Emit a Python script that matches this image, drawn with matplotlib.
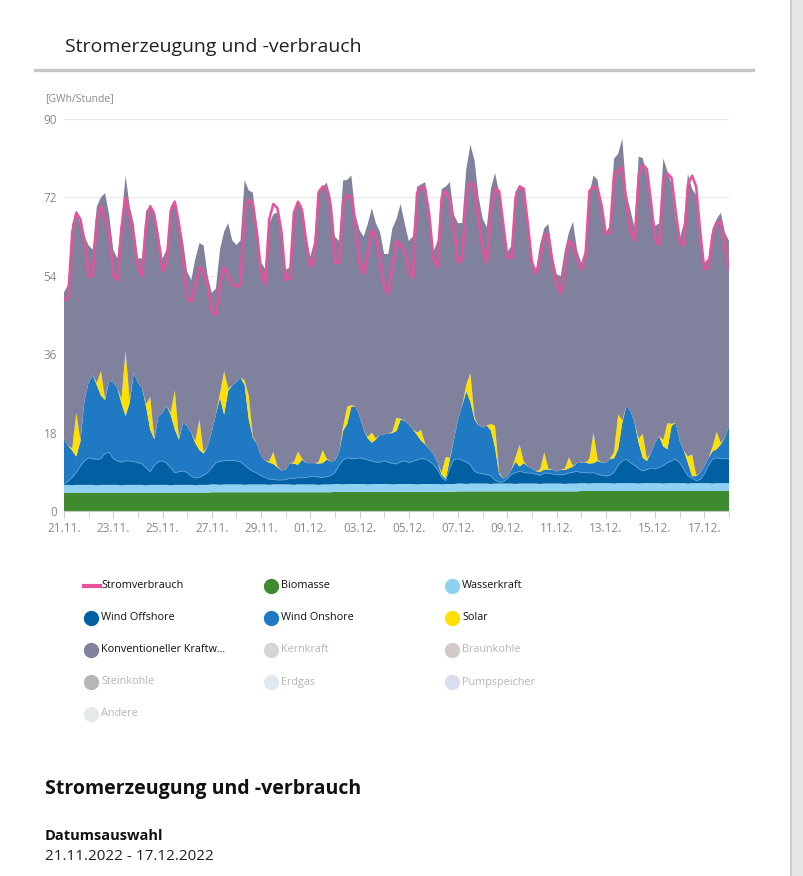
import numpy as np
import pandas as pd
import matplotlib
matplotlib.use('Agg')
import matplotlib.pyplot as plt
import matplotlib.dates as mdates
from matplotlib.lines import Line2D
from matplotlib.patches import Rectangle

plt.rcParams['font.family'] = ['Open Sans', 'DejaVu Sans']

# Werte in GWh/Stunde, alle 4 Stunden (00, 04, 08, 12, 16, 20 Uhr), eine Zeile pro Tag,
# 21.11.2022 00:00 bis 18.12.2022 00:00
stromverbrauch = [
    48.5, 49, 64, 68.5, 67, 62,
    54, 54, 67, 70, 67, 64,
    54, 53, 65, 72, 68, 63,
    56, 54, 66, 70, 68, 62,
    55, 57, 69, 71, 66, 58,
    49, 48, 52, 56, 55, 52,
    46, 45, 52, 56, 54, 52,
    51.5, 52, 69, 71.5, 70.5, 64,
    55, 52, 67, 70.5, 69.5, 64,
    53, 53.5, 68.5, 71, 69, 62,
    56, 58, 73, 74.5, 74, 70,
    57, 57, 71, 72.5, 72, 66,
    57, 54.5, 59, 64.5, 63, 58,
    51.5, 50, 56, 62, 61, 60,
    55, 53.5, 73, 74.5, 74, 68,
    58, 56, 72, 73.5, 71.5, 64.5,
    57, 58, 72.5, 75.5, 74.5, 67,
    60, 57, 69, 74, 73.5, 66,
    58.5, 58, 72, 74.5, 74, 66,
    57, 54.5, 58, 63.5, 63.5, 57,
    52, 50, 56, 62, 61, 58,
    55.5, 58, 73.5, 74.5, 74, 70,
    63.5, 64, 77.5, 78, 79, 71,
    64.5, 62, 77, 79.5, 78.5, 71,
    62.5, 61, 76, 77.5, 76.5, 69,
    62, 61, 75, 77, 74.5, 64,
    55.5, 56, 63.5, 66, 66.5, 61, 55.5,
]

biomasse = [
    4.2, 4.2, 4.2, 4.2, 4.2, 4.2,
    4.2, 4.2, 4.2, 4.2, 4.2, 4.2,
    4.2, 4.2, 4.2, 4.2, 4.2, 4.2,
    4.2, 4.2, 4.2, 4.2, 4.2, 4.2,
    4.2, 4.2, 4.2, 4.2, 4.2, 4.2,
    4.2, 4.2, 4.2, 4.2, 4.2, 4.2,
    4.3, 4.3, 4.3, 4.3, 4.3, 4.3,
    4.3, 4.3, 4.3, 4.3, 4.3, 4.3,
    4.3, 4.3, 4.3, 4.3, 4.3, 4.3,
    4.3, 4.3, 4.3, 4.3, 4.3, 4.3,
    4.3, 4.3, 4.3, 4.3, 4.3, 4.3,
    4.4, 4.4, 4.4, 4.4, 4.4, 4.4,
    4.4, 4.4, 4.4, 4.4, 4.4, 4.4,
    4.4, 4.4, 4.4, 4.4, 4.4, 4.4,
    4.4, 4.4, 4.4, 4.4, 4.4, 4.4,
    4.4, 4.4, 4.4, 4.4, 4.4, 4.4,
    4.5, 4.5, 4.5, 4.5, 4.5, 4.5,
    4.5, 4.5, 4.5, 4.5, 4.5, 4.5,
    4.5, 4.5, 4.5, 4.5, 4.5, 4.5,
    4.5, 4.5, 4.5, 4.5, 4.5, 4.5,
    4.5, 4.5, 4.5, 4.5, 4.5, 4.5,
    4.6, 4.6, 4.6, 4.6, 4.6, 4.6,
    4.6, 4.6, 4.6, 4.6, 4.6, 4.6,
    4.6, 4.6, 4.6, 4.6, 4.6, 4.6,
    4.6, 4.6, 4.6, 4.6, 4.6, 4.6,
    4.6, 4.6, 4.6, 4.6, 4.6, 4.6,
    4.6, 4.6, 4.6, 4.6, 4.6, 4.6, 4.6,
]

wasserkraft = [
    1.8, 1.8, 1.7, 1.8, 1.8, 1.8,
    1.8, 1.8, 1.7, 1.8, 1.8, 1.8,
    1.8, 1.8, 1.7, 1.8, 1.8, 1.8,
    1.8, 1.8, 1.7, 1.8, 1.8, 1.8,
    1.8, 1.8, 1.7, 1.8, 1.8, 1.8,
    1.8, 1.8, 1.7, 1.8, 1.8, 1.8,
    1.8, 1.8, 1.7, 1.8, 1.8, 1.8,
    1.8, 1.8, 1.7, 1.8, 1.8, 1.8,
    1.8, 1.8, 1.7, 1.8, 1.8, 1.8,
    1.8, 1.8, 1.7, 1.8, 1.8, 1.8,
    1.8, 1.8, 1.7, 1.8, 1.8, 1.8,
    1.8, 1.8, 1.7, 1.8, 1.8, 1.8,
    1.8, 1.8, 1.7, 1.8, 1.8, 1.8,
    1.8, 1.8, 1.7, 1.8, 1.8, 1.8,
    1.8, 1.8, 1.7, 1.8, 1.8, 1.8,
    1.8, 1.8, 1.7, 1.8, 1.8, 1.8,
    1.8, 1.8, 1.7, 1.8, 1.8, 1.8,
    1.8, 1.8, 1.7, 1.8, 1.8, 1.8,
    1.8, 1.8, 1.7, 1.8, 1.8, 1.8,
    1.8, 1.8, 1.7, 1.8, 1.8, 1.8,
    1.8, 1.8, 1.7, 1.8, 1.8, 1.8,
    1.8, 1.8, 1.7, 1.8, 1.8, 1.8,
    1.8, 1.8, 1.7, 1.8, 1.8, 1.8,
    1.8, 1.8, 1.7, 1.8, 1.8, 1.8,
    1.8, 1.8, 1.7, 1.8, 1.8, 1.8,
    1.8, 1.8, 1.7, 1.8, 1.8, 1.8,
    1.8, 1.8, 1.7, 1.8, 1.8, 1.8, 1.8,
]

wind_offshore = [
    0.3, 0.8, 1.8, 2.8, 4.3, 5.5,
    6.2, 6, 5.9, 6, 7.2, 7.5,
    6, 5.5, 5.3, 5.5, 5.5, 5.3,
    5.1, 4.8, 4, 3, 4.5, 5.3,
    5.5, 5, 4, 2.8, 3, 3.2,
    2.8, 2, 1.7, 1.7, 2.2, 2.8,
    3.8, 5, 5.4, 5.4, 5.5, 5.5,
    5.4, 5.2, 4.5, 3.6, 3, 2.6,
    2, 1.6, 1.3, 1.2, 1, 1,
    1.1, 1.4, 1.5, 1.5, 1.5, 1.6,
    1.8, 1.8, 1.8, 1.6, 1.8, 2,
    2.6, 4.3, 5.6, 6, 5.8, 5.8,
    6, 5.8, 5.6, 5.3, 5, 5,
    5.3, 5, 4.8, 4.6, 5.1, 5.3,
    4.9, 5.2, 5.6, 5.8, 5.7, 5.3,
    4.5, 3.3, 1.6, 0.8, 3.8, 5.6,
    5.7, 5.3, 5, 4.3, 2.8, 2.4,
    2.2, 2.1, 1.8, 0.8, 0.3, 0.4,
    1.1, 2.1, 2.6, 2.8, 2.6, 2.4,
    2.4, 2.1, 2, 2.4, 2.4, 2.2,
    2, 2, 2.2, 2.4, 2.6, 2.8,
    2.4, 2.4, 2.4, 2.4, 2, 1.8,
    1.6, 1.8, 2.6, 4.1, 5.1, 5.5,
    4.7, 4.1, 3.4, 2.8, 3.1, 3.5,
    3.2, 3.6, 4.1, 4.7, 5.1, 5.5,
    4.7, 3.2, 1.8, 1.1, 0.6, 0.8,
    2.1, 4.1, 5.6, 5.8, 5.6, 5.6, 5.6,
]

wind_onshore = [
    10.3, 8.2, 6.2, 3.7, 5.7, 14,
    17.3, 19.2, 17.1, 14.5, 12.3, 16.5,
    17.5, 16.8, 13.6, 10.3, 13.4, 20.5,
    18.4, 17.5, 14.1, 9.7, 6, 10.5,
    11.1, 13.1, 12.2, 9.9, 7.4, 11.1,
    10.7, 10, 8, 6.3, 5, 6.1,
    8.2, 11, 14.6, 10.6, 16, 17.2,
    18.1, 19.3, 18.5, 11.4, 7.8, 6.7,
    4.6, 3.9, 3.8, 3.5, 2.9, 2.2,
    2.3, 3.5, 3.4, 3, 4.2, 3.3,
    3.1, 3.1, 3.1, 3.3, 3.9, 3.3,
    2.7, 3, 6.7, 7.8, 12, 12,
    9.6, 6.7, 5, 4.2, 5.2, 6.4,
    6.1, 6.6, 7, 7.6, 9.7, 9.2,
    8.8, 7.3, 5.8, 4.1, 3.4, 2.7,
    2.3, 1.6, 0.6, 0.4, 1.9, 4.6,
    9.1, 12.5, 16.3, 14.5, 12, 10.9,
    10.7, 11.2, 10.5, 7.5, 1.9, 0.7,
    0.5, 1.1, 2.5, 1.1, 2.1, 1.5,
    1.1, 0.7, 0.8, 0.8, 0.8, 1,
    0.8, 1.2, 1, 1.1, 1.3, 1.9,
    2.3, 2.3, 2.2, 2.2, 3.1, 2.9,
    3.1, 3.7, 3.2, 3.7, 8.8, 12.2,
    11.9, 9.8, 5.9, 3, 2, 3.5,
    6.1, 7.2, 4.4, 3.1, 8, 8.4,
    5, 4.2, 2.9, 0.5, 1, 1.6,
    1.8, 1.7, 1.8, 2, 3.3, 4.8, 7.5,
]

solar = [
    0, 0, 0.5, 10, 0.3, 0,
    0, 0, 0.5, 5.7, 0.3, 0,
    0, 0, 1, 15, 0.5, 0,
    0, 0, 0.5, 7.5, 0.3, 0,
    0, 0, 0.5, 9, 0.3, 0,
    0, 0, 0.5, 7, 0.3, 0,
    0, 0, 1, 10, 0.5, 0,
    0, 0, 1, 5.4, 0.3, 0,
    0, 0, 0.3, 2.8, 0.2, 0,
    0, 0, 0.3, 3, 0.2, 0,
    0, 0, 0.3, 3, 0.2, 0,
    0, 0, 1, 4, 0.3, 0,
    0, 0, 0.3, 2.3, 0.2, 0,
    0, 0, 0.3, 3, 0.2, 0,
    0, 0, 0.5, 2.5, 0.1, 0,
    0, 0, 0.5, 5, 0.3, 0,
    0, 0, 1.5, 6.5, 0.5, 0,
    0, 0, 1.5, 5, 0.3, 0,
    0, 0, 1, 5, 0.3, 0,
    0, 0, 0.5, 4, 0.2, 0,
    0, 0, 0.3, 2.5, 0.1, 0,
    0, 0, 1, 7, 0.3, 0,
    0, 0, 1.5, 8, 0.5, 0,
    0, 0, 1, 5.5, 0.5, 0,
    0, 0, 1.5, 6, 0.5, 0,
    0, 0, 1.5, 5, 0.2, 0,
    0, 0, 1, 4, 0.3, 0, 0,
]

konventionell = [
    33.6, 37, 51.5, 46.5, 49.7, 37.5,
    31.5, 28.8, 40.5, 39.8, 47.2, 38,
    30.5, 29.7, 41.1, 40.2, 44.6, 34.2,
    28.5, 29.7, 44.4, 43.8, 52.2, 42.2,
    35.4, 35.9, 47.3, 43.8, 50.3, 41.7,
    35.5, 35, 41.8, 40.5, 47.5, 39.1,
    32, 29, 33, 32, 38, 33.3,
    31.5, 31.5, 46, 47.1, 55.9, 49.7,
    44.4, 44, 54.6, 54.5, 58.4, 53.3,
    45.9, 44.9, 57.6, 57.8, 57.9, 51.9,
    47.4, 50.9, 62.6, 60.4, 63.4, 60.5,
    51.5, 48.5, 56.5, 52, 52.7, 44,
    42.7, 44.3, 48.9, 51.5, 49.4, 46.4,
    41.4, 41.2, 46.7, 45.6, 49.3, 45.3,
    42.1, 44.3, 56.4, 56.4, 60.1, 53.8,
    46.5, 50.9, 65.1, 62.1, 63.3, 51.6,
    45, 42, 49.5, 52.5, 59, 52.5,
    47.9, 45.5, 54, 58, 64.3, 58.7,
    51.5, 51.4, 61, 59.7, 62.6, 55.2,
    48.1, 46.3, 51.8, 51.4, 56.2, 49.4,
    45.3, 44.4, 50.1, 51.6, 56.1, 48.9,
    45.9, 48.9, 61, 59, 64.2, 57.9,
    52.9, 53.6, 67.3, 59.8, 64.7, 48.9,
    46, 44.7, 64.8, 63.3, 65, 56.6,
    49.8, 48.8, 64.6, 57.8, 55, 46.7,
    46.4, 52.2, 64.9, 61, 64.3, 53.2,
    46.7, 45.8, 50.2, 48.8, 52.9, 47.2, 42.5,
]

legend_names = ['Stromverbrauch', 'Biomasse', 'Wasserkraft',
                'Wind Offshore', 'Wind Onshore', 'Solar',
                'Konventioneller Kraftw...', 'Kernkraft', 'Braunkohle',
                'Steinkohle', 'Erdgas', 'Pumpspeicher',
                'Andere']
legend_colors = ['#e8529b', '#3f8a2f', '#8fd1f3',
                 '#0060a2', '#1f7ac3', '#ffe000',
                 '#80819d', '#d5d5d5', '#d3cac8',
                 '#b6b6b6', '#e0e9ee', '#d9ddf0',
                 '#e6e9ec']
legend_active = [True, True, True, True, True, True, True,
                 False, False, False, False, False, False]

W, H = 804, 876


def fx(px):
    return px / W


def fy(py):
    return 1 - py / H


fig = plt.figure(figsize=(W / 100, H / 100), dpi=100)
fig.patch.set_facecolor('white')

# Scrollleiste rechts
fig.add_artist(Rectangle((fx(790), 0), fx(14), 1, transform=fig.transFigure,
                         facecolor='#e6e6e6', edgecolor='none'))
fig.add_artist(Rectangle((fx(790), 0), fx(2), 1, transform=fig.transFigure,
                         facecolor='#cdcdcd', edgecolor='none'))

fig.text(fx(65), fy(47), 'Stromerzeugung und -verbrauch', fontsize=14,
         color='#222222', va='center', ha='left')
fig.add_artist(Line2D([fx(35), fx(753)], [fy(70), fy(70)], transform=fig.transFigure,
                      color='#c6c6c6', linewidth=2.4))
fig.text(fx(45), fy(99), '[GWh/Stunde]', fontsize=7.5, color='#8a8a8a',
         va='center', ha='left')

ax = fig.add_axes([fx(64), fy(511), fx(729) - fx(64), fy(119) - fy(511)])
times = pd.date_range('2022-11-21', periods=len(stromverbrauch), freq='4h')

ax.stackplot(times, biomasse, wasserkraft, wind_offshore, wind_onshore, solar, konventionell,
             colors=[legend_colors[1], legend_colors[2], legend_colors[3],
                     legend_colors[4], legend_colors[5], legend_colors[6]],
             linewidth=0)
offshore_top = np.array(biomasse) + np.array(wasserkraft) + np.array(wind_offshore)
ax.plot(times, offshore_top, color='#5b9fd8', linewidth=0.6)
ax.plot(times, stromverbrauch, color=legend_colors[0], linewidth=1.8)

ax.set_ylim(0, 90)
ax.set_xlim(pd.Timestamp('2022-11-21'), pd.Timestamp('2022-12-18'))
ax.set_yticks([0, 18, 36, 54, 72, 90])
ax.grid(axis='y', color='#ebebeb', linewidth=1)
ax.set_axisbelow(True)
for side in ['top', 'right', 'left']:
    ax.spines[side].set_visible(False)
ax.spines['bottom'].set_color('#cccccc')
ax.tick_params(axis='y', length=0, pad=5, labelsize=8.5, labelcolor='#8a8a8a')

label_days = pd.date_range('2022-11-21', '2022-12-17', freq='2D')
ax.set_xticks(label_days)
ax.set_xticklabels([d.strftime('%d.%m.') for d in label_days])
ax.xaxis.set_minor_locator(mdates.DayLocator())
ax.tick_params(axis='x', which='both', length=5, color='#cccccc', labelsize=8.5,
               labelcolor='#8a8a8a', pad=3)

# Legende
col_x = [91, 271, 452]
row_y = [586, 618, 650, 682, 714]
for i, name in enumerate(legend_names):
    cx = col_x[i % 3]
    cy = row_y[i // 3]
    if i == 0:
        fig.add_artist(Line2D([fx(84), fx(100)], [fy(cy), fy(cy)], transform=fig.transFigure,
                              color=legend_colors[i], linewidth=3))
    else:
        fig.add_artist(Line2D([fx(cx)], [fy(cy)], transform=fig.transFigure, marker='o',
                              markersize=10, color=legend_colors[i], linestyle='none'))
    fig.text(fx(cx + 10), fy(cy), name, fontsize=7.8,
             color='#111111' if legend_active[i] else '#b5b5b5', va='center', ha='left')

fig.text(fx(45), fy(789), 'Stromerzeugung und -verbrauch', fontsize=14, fontweight='bold',
         color='#111111', va='center', ha='left')
fig.text(fx(45), fy(836), 'Datumsauswahl', fontsize=10.5, fontweight='bold',
         color='#111111', va='center', ha='left')
fig.text(fx(45), fy(857), '21.11.2022 - 17.12.2022', fontsize=11,
         color='#222222', va='center', ha='left')

fig.savefig('out.png', dpi=100)
